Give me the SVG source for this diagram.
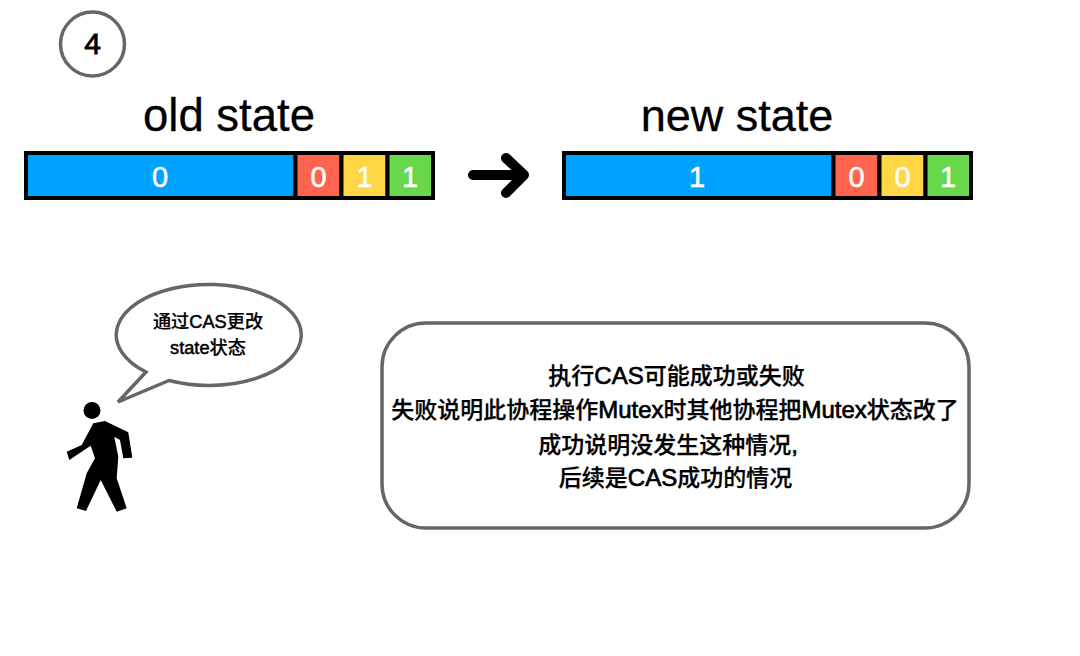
<svg xmlns="http://www.w3.org/2000/svg" width="1080" height="656" viewBox="0 0 1080 656">
<style>
text{font-family:"Liberation Sans","Noto Sans CJK SC",sans-serif;text-anchor:middle;fill:#000}
.cap{font-size:45.500px;stroke:#000;stroke-width:.3px}
.cap2{font-size:45px}
.bit{font-size:29px;fill:#fff;stroke:#fff;stroke-width:.5px}
.cell{stroke:#000;stroke-width:4}
.b{fill:#00a2ff}.r{fill:#ff644e}.y{fill:#ffd746}.g{fill:#66d84a}
.line{fill:#fff;stroke:#666;stroke-width:3.500}
.m{font-size:23px;font-weight:500;stroke:#000;stroke-width:.25px}
.lat{font-size:24px;stroke-width:.7px}
.s{font-size:18.200px;font-weight:500;stroke:#000;stroke-width:.2px}
.sl{stroke-width:.5px}
.n{font-size:30px;stroke:#000;stroke-width:.8px}
</style>
<rect width="1080" height="656" fill="#fff"/>
<g id="step"><circle class="line" cx="92.500" cy="44" r="32"/><text class="n" x="92.500" y="54">4</text></g>
<g id="old-state">
<text class="cap" x="229" y="131">old state</text>
<rect class="cell b" x="26" y="153" width="269.500" height="45"/><rect class="cell r" x="295.500" y="153" width="46" height="45"/><rect class="cell y" x="341.500" y="153" width="46" height="45"/><rect class="cell g" x="387.500" y="153" width="45.500" height="45"/>
<text class="bit" x="160" y="187">0</text><text class="bit" x="318.500" y="187">0</text><text class="bit" x="364.500" y="187">1</text><text class="bit" x="410" y="187">1</text>
</g>
<g id="new-state">
<text class="cap cap2" x="737" y="131">new state</text>
<rect class="cell b" x="564" y="153" width="269.500" height="45"/><rect class="cell r" x="833.500" y="153" width="46" height="45"/><rect class="cell y" x="879.500" y="153" width="46" height="45"/><rect class="cell g" x="925.500" y="153" width="45.500" height="45"/>
<text class="bit" x="697" y="187">1</text><text class="bit" x="856.500" y="187">0</text><text class="bit" x="902.500" y="187">0</text><text class="bit" x="948" y="187">1</text>
</g>
<g id="connectors"><path d="M473 175H523M506 158L524 175L506 193" fill="none" stroke="#000" stroke-width="10" stroke-linecap="round" stroke-linejoin="round"/></g>
<g id="speech">
<path class="line" d="M118 402L146 372A92.500 50.500 0 1 1 169 380.500Z"/>
<text class="s" x="208" y="328">通过<tspan class="sl">CAS</tspan>更改</text><text class="s" x="208" y="354"><tspan class="sl">state</tspan>状态</text>
</g>
<g id="person">
<circle cx="92" cy="410.500" r="8.500"/>
<path d="M93.300 423.300L105 421L128.300 432.300L132.300 457.700L123.300 458.300L120 440L114.300 436.700L118.300 456.700L116.700 478.300L126.700 508.300L116.700 511.700L100.700 480L86 511L76.700 508.300L86.700 473.300L95 458.300L90.700 445.700L69.300 460L66.700 451.700L81.700 445Z"/>
</g>
<g id="note">
<rect class="line" x="382" y="323" width="587" height="205" rx="44"/>
<text class="m" x="676.500" y="384">执行<tspan class="lat">CAS</tspan>可能成功或失败</text>
<text class="m" x="675" y="418">失败说明此协程操作<tspan class="lat">Mutex</tspan>时其他协程把<tspan class="lat">Mutex</tspan>状态改了</text>
<text class="m" x="668" y="453">成功说明没发生这种情况<tspan class="lat">,</tspan></text>
<text class="m" x="675.500" y="486">后续是<tspan class="lat">CAS</tspan>成功的情况</text>
</g>
</svg>
